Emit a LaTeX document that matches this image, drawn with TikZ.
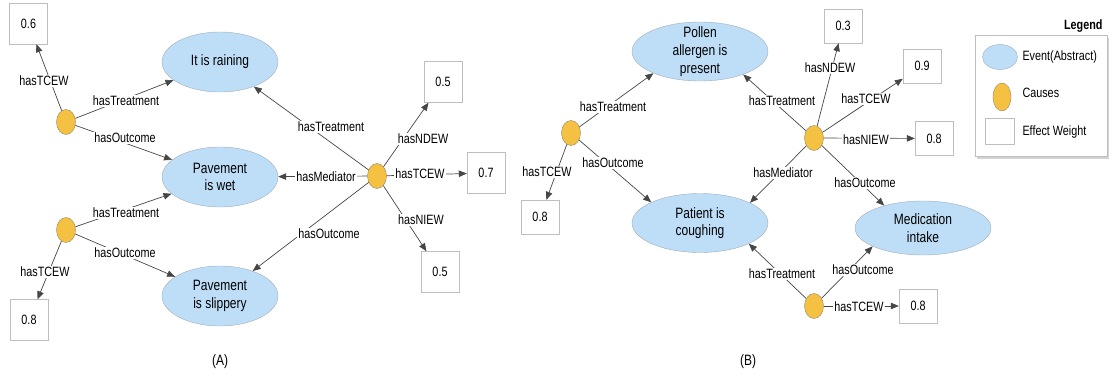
\documentclass[tikz,border=0pt]{standalone}
\usepackage{fontspec}
\setmainfont{Liberation Sans}[FakeStretch=0.8]
\usetikzlibrary{arrows.meta,shapes.geometric,shadows}

\definecolor{eventfill}{RGB}{190,222,248}
\definecolor{eventline}{RGB}{160,172,185}
\definecolor{causefill}{RGB}{244,193,66}
\definecolor{causeline}{RGB}{150,135,100}
\definecolor{boxline}{RGB}{190,190,190}
\definecolor{edgecol}{RGB}{70,70,70}

\tikzset{
  event/.style={ellipse, draw=eventline, fill=eventfill, minimum width=116pt,
    minimum height=60pt, inner sep=0pt, align=center,
    font=\fontsize{15}{17.5}\selectfont},
  wideevent/.style={event, minimum width=136pt, minimum height=59pt},
  evtext/.style={align=center, font=\fontsize{15}{18}\selectfont},
  cause/.style={ellipse, draw=causeline, fill=causefill, minimum width=19pt,
    minimum height=25pt, inner sep=0pt},
  weight/.style={rectangle, draw=boxline, fill=white, minimum width=38pt,
    minimum height=41pt, font=\fontsize{13.5}{16}\selectfont},
  smallweight/.style={weight, minimum height=34pt},
  link/.style={draw=edgecol, line width=0.7pt, -{Triangle[length=8pt,width=6.5pt]}},
  lbl/.style={fill=white, inner sep=1.5pt, font=\fontsize{13.5}{16}\selectfont},
  legtext/.style={anchor=west, font=\fontsize{13.5}{16}\selectfont},
}

\begin{document}
\begin{tikzpicture}[x=1pt, y=-1pt]
    \useasboundingbox (0,0) rectangle (1112,378);

    % (A) events and causes
    \node[weight] (wA06) at (28.5,23.5) {0.6};
    \node[cause] (cA1) at (66,122) {};
    \node[event] (rain) at (220,62) {It is raining};
    \node[event] (wet) at (220,177) {Pavement\\is wet};
    \node[cause] (cA2) at (66,230) {};
    \node[event] (slip) at (220,296) {Pavement\\is slippery};
    \node[weight] (wA08) at (29,320) {0.8};
    \node[cause] (cA3) at (377,176) {};
    \node[weight] (wA05a) at (443,82) {0.5};
    \node[weight] (wA07) at (486,173) {0.7};
    \node[weight] (wA05b) at (440,272) {0.5};
    \node[evtext] (capA) at (220,362) {(A)};

    % (B) events and causes
    \node[wideevent, label={[evtext]center:{Pollen\\allergen is\\present}}] (pollen) at (700,51.5) {};
    \node[cause] (cB1) at (571,133) {};
    \node[wideevent] (cough) at (700,223) {Patient is\\coughing};
    \node[smallweight] (wB08a) at (540,217) {0.8};
    \node[cause] (cB2) at (814,138) {};
    \node[cause] (cB3) at (814,306) {};
    \node[wideevent, minimum height=54pt] (medic) at (923,228) {Medication\\intake};
    \node[smallweight] (wB03) at (843,26) {0.3};
    \node[smallweight] (wB09) at (922,66) {0.9};
    \node[smallweight] (wB08b) at (934,138.5) {0.8};
    \node[smallweight] (wB08c) at (918,306) {0.8};
    \node[evtext] (capB) at (748,362) {(B)};

    % Connectors
    \foreach \from/\to in {cA1/wA06, cA1/rain, cA1/wet, cA2/wet, cA2/slip, cA2/wA08,
        cA3/rain, cA3/wet, cA3/slip, cA3/wA05a, cA3/wA07, cA3/wA05b,
        cB1/pollen.205, cB1/cough.157, cB1/wB08a,
        cB2/pollen.-28, cB2/wB03, cB2/wB09, cB2/wB08b, cB2/cough.22, cB2/medic.150,
        cB3/cough.-23, cB3/medic.200, cB3/wB08c} {
        \draw[link] (\from) -- (\to);
    }

    % Connector labels
    \foreach \name/\x/\y/\txt in {lA1/44/81/hasTCEW, lA2/126/101/hasTreatment,
        lA3/125/138/hasOutcome, lA4/126/213/hasTreatment, lA5/125/253/hasOutcome,
        lA6/45/272/hasTCEW, lA7/331/127/hasTreatment, lA8/326/177/hasMediator,
        lA9/329/234/hasOutcome, lA10/423/139/hasNDEW, lA11/420/174/hasTCEW,
        lA12/421/220/hasNIEW,
        lB1/613/107/hasTreatment, lB2/613/163/hasOutcome, lB3/547/172/hasTCEW,
        lB4/782/101/hasTreatment, lB5/830/68/hasNDEW, lB6/866/99/hasTCEW,
        lB7/866/140/hasNIEW, lB8/783/173/hasMediator, lB9/865/183/hasOutcome,
        lB10/782/274/hasTreatment, lB11/863/270/hasOutcome, lB12/859/307/hasTCEW} {
        \node[lbl] (\name) at (\x,\y) {\txt};
    }

    % Legend
    \node[draw=boxline, fill=white, minimum width=132pt, minimum height=121pt,
        drop shadow={opacity=0.35, shadow xshift=2pt, shadow yshift=-3pt}] (legend) at (1041,95.5) {};
    \node[anchor=east, font=\bfseries\fontsize{13.5}{16}\selectfont] (legtitle) at (1106,26) {Legend};
    \node[event, minimum width=35pt, minimum height=25pt] (legevent) at (1000,57) {};
    \node[legtext] (legeventtxt) at (1019,57) {Event(Abstract)};
    \node[cause, minimum width=18pt, minimum height=28pt] (legcause) at (1002,97) {};
    \node[legtext] (legcausetxt) at (1019,93) {Causes};
    \node[weight, minimum width=29pt, minimum height=26pt] (legweight) at (1000,131) {};
    \node[legtext] (legweighttxt) at (1019,132) {Effect Weight};
\end{tikzpicture}
\end{document}
